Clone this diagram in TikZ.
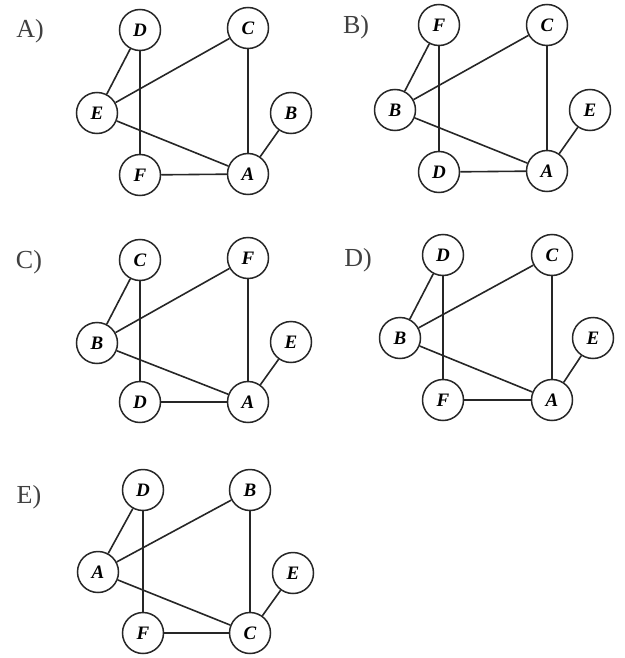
\documentclass[tikz,border=0pt]{standalone}
\usepackage{fontspec}
\setmainfont{Liberation Serif}
\begin{document}
\begin{tikzpicture}[x=1pt,y=-1pt,
  vtx/.style={circle,draw=black!85,line width=1.5pt,fill=white,minimum size=41pt,inner sep=0pt,font=\fontsize{19}{19}\selectfont\bfseries\itshape},
  edge/.style={line width=1.6pt,draw=black!85},
  plabel/.style={font=\fontsize{26}{26}\selectfont,text=black!75}]
\useasboundingbox (0,0) rectangle (624,658);
% Panel A
\node[plabel] (la) at (30,31) {A)};
\node[vtx] (aD) at (140,30) {D};
\node[vtx] (aC) at (248,28) {C};
\node[vtx] (aE) at (97,113) {E};
\node[vtx] (aB) at (291,113) {B};
\node[vtx] (aF) at (140,175) {F};
\node[vtx] (aA) at (248,174) {A};
\draw[edge] (aD) -- (aE);
\draw[edge] (aD) -- (aF);
\draw[edge] (aE) -- (aC);
\draw[edge] (aE) -- (aA);
\draw[edge] (aC) -- (aA);
\draw[edge] (aF) -- (aA);
\draw[edge] (aA) -- (aB);
% Panel B
\node[plabel] (lb) at (356,27) {B)};
\node[vtx] (bF) at (439,25) {F};
\node[vtx] (bC) at (547,25) {C};
\node[vtx] (bB) at (395,110) {B};
\node[vtx] (bE) at (590,110) {E};
\node[vtx] (bD) at (439,172) {D};
\node[vtx] (bA) at (547,171) {A};
\draw[edge] (bF) -- (bB);
\draw[edge] (bF) -- (bD);
\draw[edge] (bB) -- (bC);
\draw[edge] (bB) -- (bA);
\draw[edge] (bC) -- (bA);
\draw[edge] (bD) -- (bA);
\draw[edge] (bA) -- (bE);
% Panel C
\node[plabel] (lc) at (29,262) {C)};
\node[vtx] (cC) at (140,260) {C};
\node[vtx] (cF) at (248,258) {F};
\node[vtx] (cB) at (97,343) {B};
\node[vtx] (cE) at (291,342) {E};
\node[vtx] (cD) at (140,402) {D};
\node[vtx] (cA) at (248,402) {A};
\draw[edge] (cC) -- (cB);
\draw[edge] (cC) -- (cD);
\draw[edge] (cB) -- (cF);
\draw[edge] (cB) -- (cA);
\draw[edge] (cF) -- (cA);
\draw[edge] (cD) -- (cA);
\draw[edge] (cA) -- (cE);
% Panel D
\node[plabel] (ld) at (358,260) {D)};
\node[vtx] (dD) at (443,255) {D};
\node[vtx] (dC) at (552,255) {C};
\node[vtx] (dB) at (400,338) {B};
\node[vtx] (dE) at (593,338) {E};
\node[vtx] (dF) at (443,400) {F};
\node[vtx] (dA) at (552,400) {A};
\draw[edge] (dD) -- (dB);
\draw[edge] (dD) -- (dF);
\draw[edge] (dB) -- (dC);
\draw[edge] (dB) -- (dA);
\draw[edge] (dC) -- (dA);
\draw[edge] (dF) -- (dA);
\draw[edge] (dA) -- (dE);
% Panel E
\node[plabel] (le) at (29,497) {E)};
\node[vtx] (eD) at (143,490) {D};
\node[vtx] (eB) at (250,490) {B};
\node[vtx] (eA) at (98,572) {A};
\node[vtx] (eE) at (293,573) {E};
\node[vtx] (eF) at (143,633) {F};
\node[vtx] (eC) at (250,633) {C};
\draw[edge] (eD) -- (eA);
\draw[edge] (eD) -- (eF);
\draw[edge] (eA) -- (eB);
\draw[edge] (eA) -- (eC);
\draw[edge] (eB) -- (eC);
\draw[edge] (eF) -- (eC);
\draw[edge] (eC) -- (eE);
\end{tikzpicture}
\end{document}
